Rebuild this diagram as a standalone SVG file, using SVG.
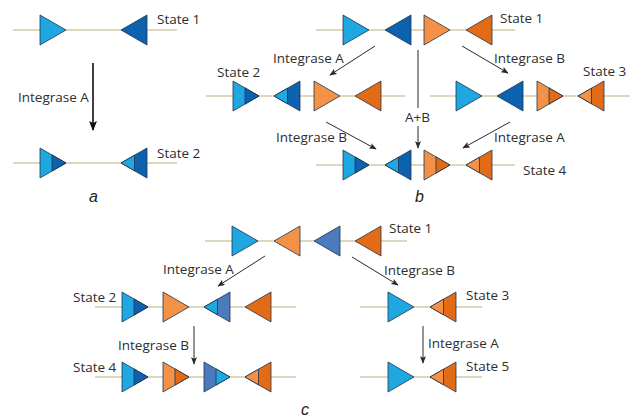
<svg xmlns="http://www.w3.org/2000/svg" xmlns:xlink="http://www.w3.org/1999/xlink" width="636" height="418" viewBox="0 0 636 418">
  <style>
    .dna { stroke: #dcd7bd; stroke-width: 2; }
    .lb { fill: #1ea7e1; }
    .db { fill: #0c62ae; }
    .lo { fill: #f39247; }
    .do { fill: #e26b18; }
    .sb { fill: #4a7bbd; }
    .site { stroke: #22324a; stroke-width: 0.8; stroke-linejoin: miter; }
    .lbl { font-family: "Open Sans", "Liberation Sans", sans-serif; font-size: 13.5px; fill: #2e2e2e; }
    .pan { font-family: "Liberation Sans", sans-serif; font-size: 16px; font-style: italic; fill: #222; }
    .arr { stroke: #2a2a2a; stroke-width: 1; fill: none; marker-end: url(#head); }
    .arr-thick { stroke: #111; stroke-width: 1.6; fill: none; marker-end: url(#headBig); }
  </style>
  <defs>
    <marker id="head" viewBox="0 0 10 8" refX="9" refY="4" markerWidth="8" markerHeight="6" markerUnits="userSpaceOnUse" orient="auto">
      <path d="M0,0 L10,4 L0,8 L2,4 Z" fill="#2a2a2a"/>
    </marker>
    <marker id="headBig" viewBox="0 0 10 8" refX="9" refY="4" markerWidth="10" markerHeight="8" markerUnits="userSpaceOnUse" orient="auto">
      <path d="M0,0 L10,4 L0,8 L2,4 Z" fill="#111"/>
    </marker>
    <!-- attachment sites: right-pointing and left-pointing, with overlay parts for recombined halves -->
    <path id="rt" d="M0,-15 L26,0 L0,15 Z"/>
    <path id="rtTip" d="M12,-8.1 L26,0 L12,8.1 Z"/>
    <path id="lt" d="M0,0 L26,-15 L26,15 Z"/>
    <path id="ltTip" d="M0,0 L13.5,-7.8 L13.5,7.8 Z"/>
  </defs>

  <!-- DNA backbone lines -->
  <g id="backbones">
    <line class="dna" x1="13" y1="30" x2="177" y2="30"/>
    <line class="dna" x1="13" y1="163" x2="177" y2="163"/>
    <line class="dna" x1="316" y1="30" x2="515" y2="30"/>
    <line class="dna" x1="206" y1="96" x2="405" y2="96"/>
    <line class="dna" x1="430" y1="96" x2="630" y2="96"/>
    <line class="dna" x1="316" y1="165" x2="515" y2="165"/>
    <line class="dna" x1="205" y1="241" x2="407" y2="241"/>
    <line class="dna" x1="95" y1="307" x2="296" y2="307"/>
    <line class="dna" x1="95" y1="377" x2="296" y2="377"/>
    <line class="dna" x1="360" y1="307" x2="482" y2="307"/>
    <line class="dna" x1="360" y1="377" x2="482" y2="377"/>
  </g>

  <!-- panel a -->
  <g id="a-state1">
    <use href="#rt" x="40" y="30" class="lb site"/>
    <use href="#lt" x="121" y="30" class="db site"/>
    <text class="lbl" x="157" y="24">State 1</text>
  </g>
  <g id="a-state2">
    <use href="#rt" x="40" y="163" class="lb site"/>
    <use href="#rtTip" x="40" y="163" class="db site"/>
    <use href="#lt" x="121" y="163" class="db site"/>
    <use href="#ltTip" x="121" y="163" class="lb site"/>
    <text class="lbl" x="157" y="158">State 2</text>
  </g>
  <text class="pan" x="89" y="202">a</text>

  <!-- panel b -->
  <g id="b-state1">
    <use href="#rt" x="343" y="30" class="lb site"/>
    <use href="#lt" x="385" y="30" class="db site"/>
    <use href="#rt" x="424" y="30" class="lo site"/>
    <use href="#lt" x="466" y="30" class="do site"/>
    <text class="lbl" x="500" y="23">State 1</text>
  </g>
  <g id="b-state2">
    <use href="#rt" x="233" y="96" class="lb site"/>
    <use href="#rtTip" x="233" y="96" class="db site"/>
    <use href="#lt" x="274" y="96" class="db site"/>
    <use href="#ltTip" x="274" y="96" class="lb site"/>
    <use href="#rt" x="314" y="96" class="lo site"/>
    <use href="#lt" x="355" y="96" class="do site"/>
    <text class="lbl" x="217" y="77">State 2</text>
  </g>
  <g id="b-state3">
    <use href="#rt" x="456" y="96" class="lb site"/>
    <use href="#lt" x="497" y="96" class="db site"/>
    <use href="#rt" x="537" y="96" class="lo site"/>
    <use href="#rtTip" x="537" y="96" class="do site"/>
    <use href="#lt" x="578" y="96" class="do site"/>
    <use href="#ltTip" x="578" y="96" class="lo site"/>
    <text class="lbl" x="583" y="76">State 3</text>
  </g>
  <g id="b-state4">
    <use href="#rt" x="343" y="165" class="lb site"/>
    <use href="#rtTip" x="343" y="165" class="db site"/>
    <use href="#lt" x="385" y="165" class="db site"/>
    <use href="#ltTip" x="385" y="165" class="lb site"/>
    <use href="#rt" x="424" y="165" class="lo site"/>
    <use href="#rtTip" x="424" y="165" class="do site"/>
    <use href="#lt" x="466" y="165" class="do site"/>
    <use href="#ltTip" x="466" y="165" class="lo site"/>
    <text class="lbl" x="523" y="175">State 4</text>
  </g>
  <text class="pan" x="415" y="202">b</text>

  <!-- panel c -->
  <g id="c-state1">
    <use href="#rt" x="232" y="241" class="lb site"/>
    <use href="#lt" x="274" y="241" class="lo site"/>
    <use href="#lt" x="314" y="241" class="sb site"/>
    <use href="#lt" x="355" y="241" class="do site"/>
    <text class="lbl" x="389" y="233">State 1</text>
  </g>
  <g id="c-state2">
    <use href="#rt" x="122" y="307" class="lb site"/>
    <use href="#rtTip" x="122" y="307" class="db site"/>
    <use href="#rt" x="163" y="307" class="lo site"/>
    <use href="#lt" x="204" y="307" class="sb site"/>
    <use href="#ltTip" x="204" y="307" class="lb site"/>
    <use href="#lt" x="245" y="307" class="do site"/>
    <text class="lbl" x="73" y="302">State 2</text>
  </g>
  <g id="c-state4">
    <use href="#rt" x="122" y="377" class="lb site"/>
    <use href="#rtTip" x="122" y="377" class="db site"/>
    <use href="#rt" x="163" y="377" class="lo site"/>
    <use href="#rtTip" x="163" y="377" class="do site"/>
    <use href="#rt" x="204" y="377" class="sb site"/>
    <use href="#rtTip" x="204" y="377" class="lb site"/>
    <use href="#lt" x="245" y="377" class="do site"/>
    <use href="#ltTip" x="245" y="377" class="lo site"/>
    <text class="lbl" x="73" y="372">State 4</text>
  </g>
  <g id="c-state3">
    <use href="#rt" x="388" y="307" class="lb site"/>
    <use href="#lt" x="430" y="307" class="do site"/>
    <use href="#ltTip" x="430" y="307" class="lo site"/>
    <text class="lbl" x="466" y="300">State 3</text>
  </g>
  <g id="c-state5">
    <use href="#rt" x="388" y="377" class="lb site"/>
    <use href="#lt" x="430" y="377" class="do site"/>
    <use href="#ltTip" x="430" y="377" class="lo site"/>
    <text class="lbl" x="466" y="371">State 5</text>
  </g>
  <text class="pan" x="301" y="415">c</text>

  <!-- transitions -->
  <g id="connectors">
    <line class="arr-thick" x1="93" y1="63" x2="93" y2="130"/>
    <line class="arr" x1="375" y1="46" x2="330" y2="75"/>
    <line class="arr" x1="462" y1="46" x2="508" y2="73"/>
    <line stroke="#2a2a2a" stroke-width="1" x1="418" y1="50" x2="418" y2="108"/>
    <line class="arr" x1="418" y1="126" x2="418" y2="148"/>
    <line class="arr" x1="326" y1="122" x2="376" y2="149"/>
    <line class="arr" x1="510" y1="122" x2="463" y2="148"/>
    <line class="arr" x1="265" y1="256" x2="218" y2="286"/>
    <line class="arr" x1="352" y1="257" x2="398" y2="285"/>
    <line class="arr" x1="194" y1="326" x2="194" y2="364"/>
    <line class="arr" x1="423" y1="326" x2="423" y2="363"/>
  </g>

  <!-- transition labels -->
  <g id="labels">
    <text class="lbl" x="18" y="102">Integrase A</text>
    <text class="lbl" x="273" y="63">Integrase A</text>
    <text class="lbl" x="494" y="63">Integrase B</text>
    <text class="lbl" x="405" y="122">A+B</text>
    <text class="lbl" x="276" y="142">Integrase B</text>
    <text class="lbl" x="494" y="142">Integrase A</text>
    <text class="lbl" x="163" y="274">Integrase A</text>
    <text class="lbl" x="384" y="275">Integrase B</text>
    <text class="lbl" x="118" y="350">Integrase B</text>
    <text class="lbl" x="428" y="348">Integrase A</text>
  </g>
</svg>
